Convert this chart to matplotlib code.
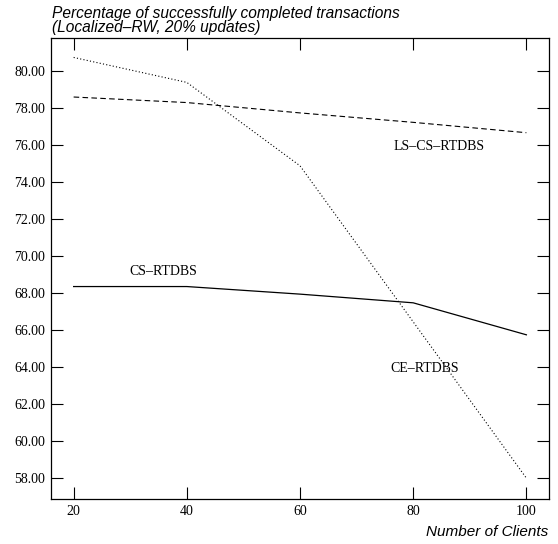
import matplotlib
matplotlib.use("Agg")
import matplotlib.pyplot as plt
from matplotlib.ticker import FormatStrFormatter

# Data
clients = [20, 40, 60, 80, 100]
ce_rtdbs = [80.75, 79.4, 74.89, 66.45, 58.0]
ls_cs_rtdbs = [78.61, 78.31, 77.75, 77.24, 76.68]
cs_rtdbs = [68.36, 68.36, 67.95, 67.48, 65.75]
y_ticks = [58, 60, 62, 64, 66, 68, 70, 72, 74, 76, 78, 80]

fig = plt.figure(figsize=(5.58, 5.44), dpi=100)
ax = fig.add_axes([0.0914, 0.0827, 0.8925, 0.8474])

ax.plot(clients, ce_rtdbs, color='black', linewidth=0.8, linestyle=(0, (1, 2)))
ax.plot(clients, ls_cs_rtdbs, color='black', linewidth=0.8, linestyle=(0, (5, 3)))
ax.plot(clients, cs_rtdbs, color='black', linewidth=0.9, linestyle='-')

serif = 'Liberation Serif'
ax.text(84.5, 75.95, 'LS\u2013CS\u2013RTDBS', family=serif, fontsize=10, ha='center', va='center')
ax.text(35.8, 69.17, 'CS\u2013RTDBS', family=serif, fontsize=10, ha='center', va='center')
ax.text(82.0, 63.95, 'CE\u2013RTDBS', family=serif, fontsize=10, ha='center', va='center')

ax.set_xlim(16, 104)
ax.set_ylim(56.87, 81.8)
ax.set_xticks(clients)
ax.set_yticks(y_ticks)
ax.yaxis.set_major_formatter(FormatStrFormatter('%.2f'))
ax.tick_params(direction='in', length=8.5, width=0.8, top=True, right=True,
               labelsize=10, pad=4)
for lbl in ax.get_xticklabels() + ax.get_yticklabels():
    lbl.set_family(serif)
for s in ax.spines.values():
    s.set_linewidth(0.9)

# two-line title above the axes, block centred between the two baselines
fig.text(0.094, 1 - 20.5 / 544, 'Percentage of successfully completed transactions\n(Localized\u2013RW, 20% updates)',
         family='Liberation Sans', style='italic', fontsize=11.2, ha='left', va='center',
         linespacing=0.9)
fig.text(0.982, 1 - 531.5 / 544, 'Number of Clients', family='Liberation Sans', style='italic',
         fontsize=11, ha='right', va='center')

fig.savefig('out.png', dpi=100)
